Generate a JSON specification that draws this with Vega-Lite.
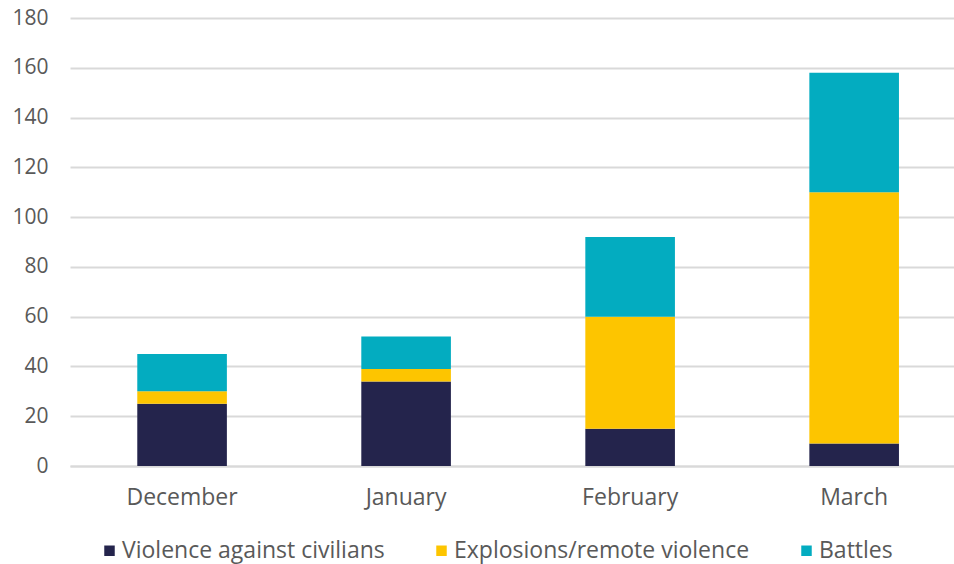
{
  "$schema": "https://vega.github.io/schema/vega-lite/v6.json",
  "width": 884,
  "height": 448,
  "autosize": "none",
  "padding": {"left": 70, "top": 18, "right": 0, "bottom": 98},
  "background": "white",
  "config": {
    "view": {"stroke": null},
    "font": "Open Sans"
  },
  "data": {
    "values": [
      {"month": "December", "type": "Violence against civilians", "o": 1, "value": 25},
      {"month": "December", "type": "Explosions/remote violence", "o": 2, "value": 5},
      {"month": "December", "type": "Battles", "o": 3, "value": 15},
      {"month": "January", "type": "Violence against civilians", "o": 1, "value": 34},
      {"month": "January", "type": "Explosions/remote violence", "o": 2, "value": 5},
      {"month": "January", "type": "Battles", "o": 3, "value": 13},
      {"month": "February", "type": "Violence against civilians", "o": 1, "value": 15},
      {"month": "February", "type": "Explosions/remote violence", "o": 2, "value": 45},
      {"month": "February", "type": "Battles", "o": 3, "value": 32},
      {"month": "March", "type": "Violence against civilians", "o": 1, "value": 9},
      {"month": "March", "type": "Explosions/remote violence", "o": 2, "value": 101},
      {"month": "March", "type": "Battles", "o": 3, "value": 48}
    ]
  },
  "mark": {"type": "bar"},
  "encoding": {
    "x": {
      "field": "month",
      "type": "nominal",
      "sort": ["December", "January", "February", "March"],
      "scale": {"paddingInner": 0.6, "paddingOuter": 0.273, "align": 0.55},
      "axis": {
        "title": null,
        "labelAngle": 0,
        "labelFontSize": 23,
        "labelColor": "#595959",
        "labelPadding": 20,
        "ticks": false,
        "domainColor": "#d9d9d9",
        "domainWidth": 2
      }
    },
    "y": {
      "field": "value",
      "type": "quantitative",
      "stack": "zero",
      "scale": {"domain": [0, 180], "nice": false},
      "axis": {
        "title": null,
        "values": [0, 20, 40, 60, 80, 100, 120, 140, 160, 180],
        "labelFontSize": 21,
        "labelColor": "#595959",
        "labelPadding": 22,
        "ticks": false,
        "domain": false,
        "gridColor": "#d9d9d9",
        "gridWidth": 2
      }
    },
    "color": {
      "field": "type",
      "type": "nominal",
      "sort": ["Violence against civilians", "Explosions/remote violence", "Battles"],
      "scale": {
        "domain": ["Violence against civilians", "Explosions/remote violence", "Battles"],
        "range": ["#24244c", "#fdc500", "#03acc0"]
      },
      "legend": {
        "title": null,
        "orient": "none",
        "direction": "horizontal",
        "legendX": 28,
        "legendY": 521,
        "symbolType": "square",
        "symbolSize": 110,
        "labelFontSize": 23,
        "labelLimit": 0,
        "labelColor": "#595959",
        "labelOffset": 1,
        "columnPadding": 45
      }
    },
    "order": {"field": "o", "type": "quantitative"}
  }
}
